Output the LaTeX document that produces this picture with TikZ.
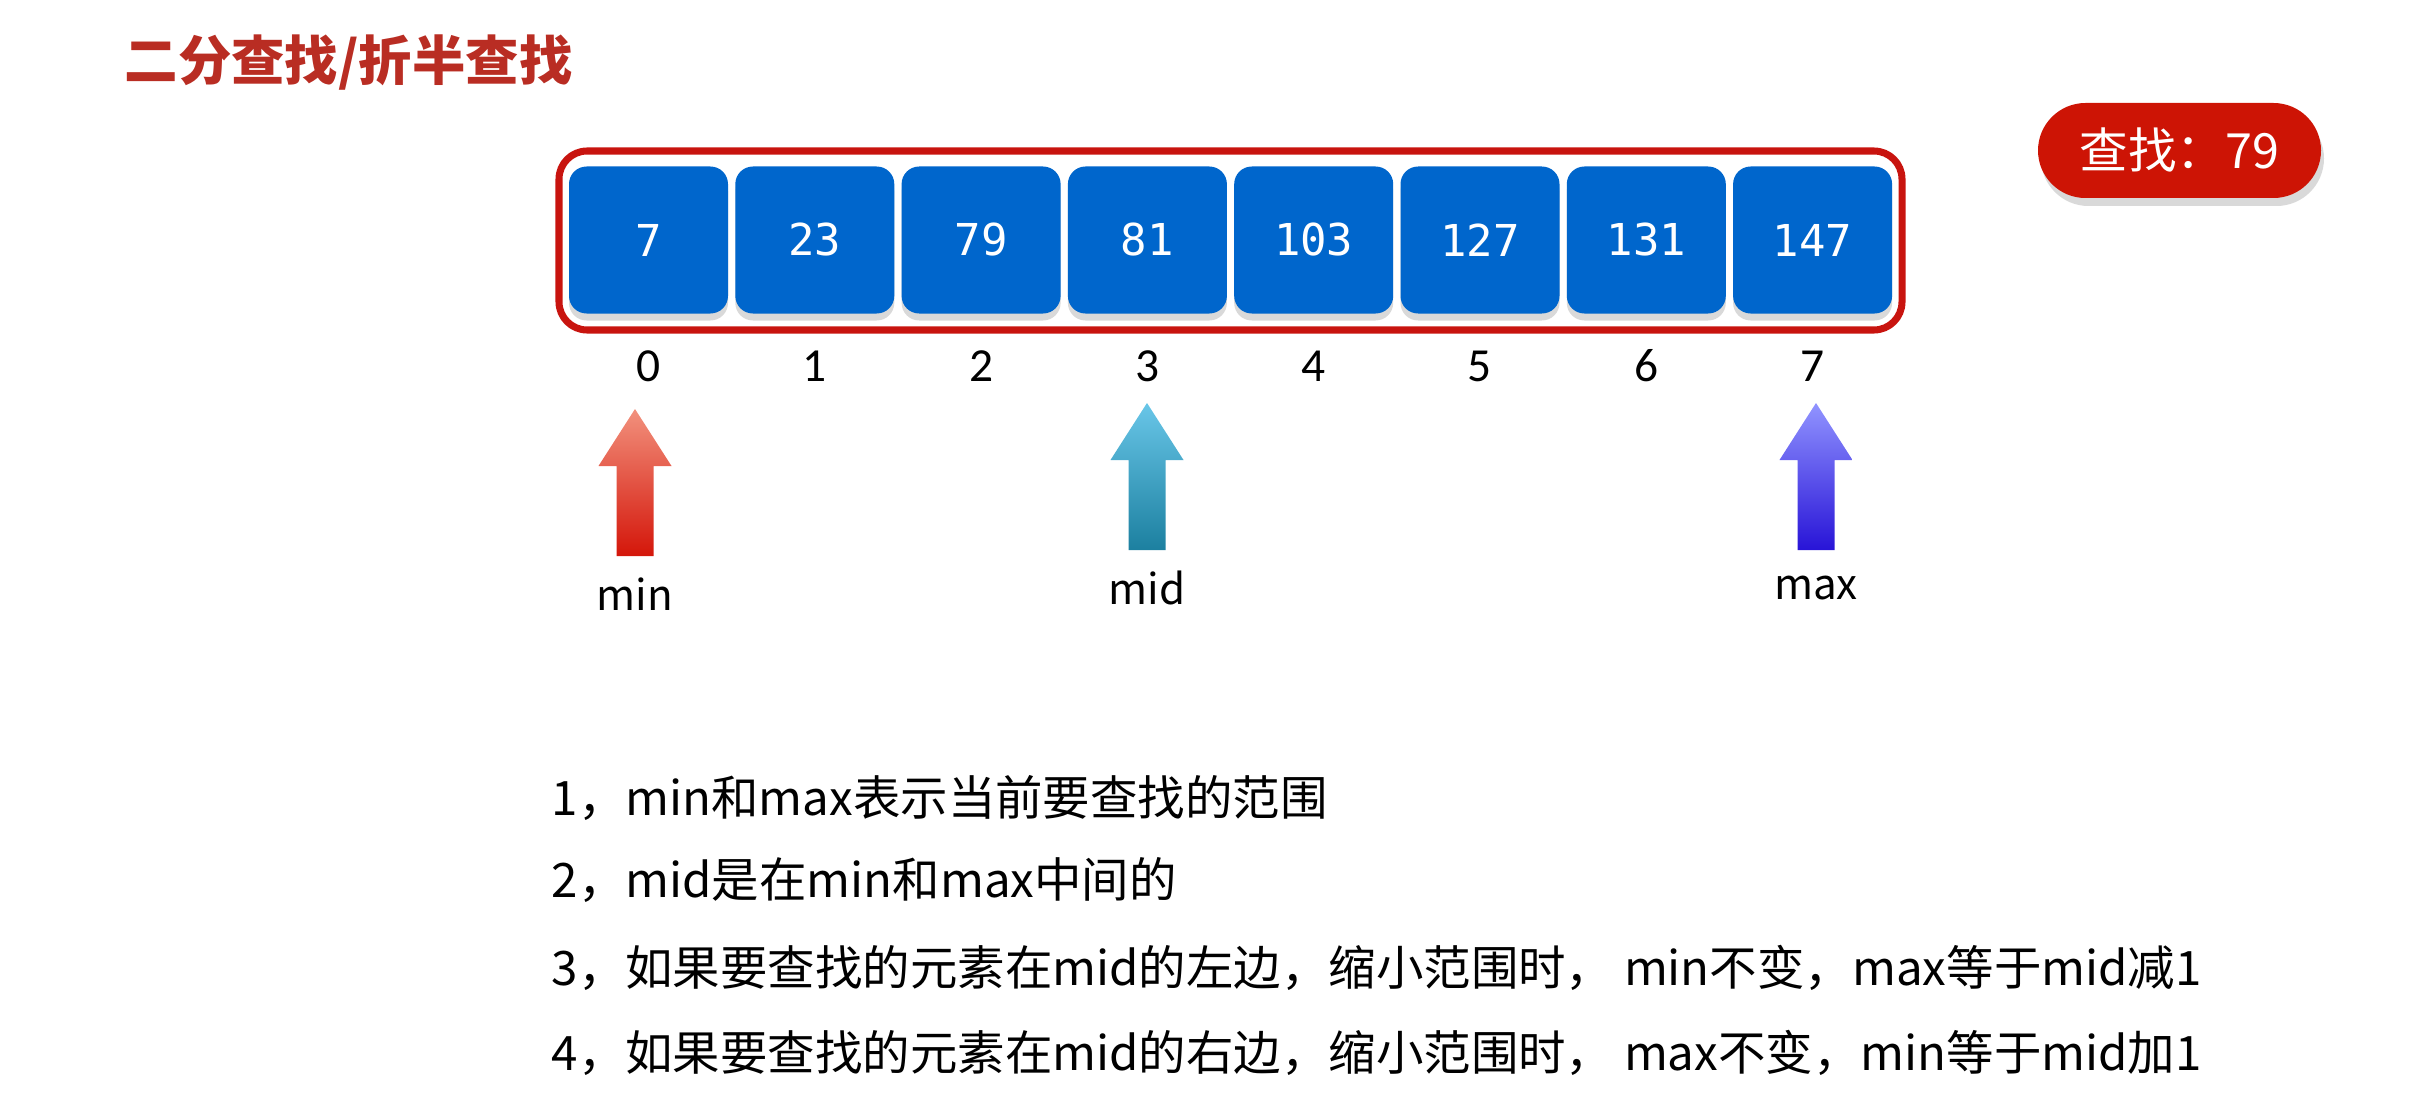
\documentclass[tikz,border=0pt]{standalone}
\usepackage{fontspec}
\setmainfont{Noto Sans CJK SC}
\newfontfamily\cellfont{DejaVu Sans Mono}
\newfontfamily\idxfont{Carlito}
\usetikzlibrary{positioning,shadows}
\definecolor{titlered}{RGB}{185,45,35}
\definecolor{framered}{RGB}{200,20,15}
\definecolor{cellblue}{RGB}{0,102,204}
\definecolor{badgered}{RGB}{205,20,5}
\definecolor{minTop}{RGB}{242,145,125}
\definecolor{minBot}{RGB}{212,22,10}
\definecolor{midTop}{RGB}{105,198,232}
\definecolor{midBot}{RGB}{28,128,160}
\definecolor{maxTop}{RGB}{145,148,255}
\definecolor{maxBot}{RGB}{40,20,215}

\begin{document}
\begin{tikzpicture}[
  cellbox/.style={fill=cellblue,rounded corners=5pt,minimum width=1.59cm,minimum height=1.47cm,
    text=white,font=\cellfont\fontsize{12.5}{14}\selectfont,
    drop shadow={shadow xshift=0pt,shadow yshift=-0.7mm,fill=black!15,opacity=1}},
  idxlab/.style={font=\idxfont\fontsize{13.5}{15}\selectfont},
  ptrlab/.style={font=\fontsize{12}{14}\selectfont},
  rulelab/.style={anchor=west,inner sep=0pt,font=\fontsize{13.5}{16}\selectfont}
]
\useasboundingbox (0,0) rectangle (24.21,11.19);

\node[anchor=west,inner sep=0pt,text=titlered,font=\bfseries\fontsize{15.2}{18}\selectfont] (title) at (1.24,10.56) {二分查找/折半查找};

% the array with its frame
\draw[framered,line width=2pt,rounded corners=8pt] (5.59,7.89) rectangle (19.02,9.68);
\foreach \i/\v in {0/7,1/23,2/79,3/81,4/103,5/127,6/131,7/147}{
  \node[cellbox] (c\i) at ({6.485+1.663*\i},8.79) {\v};
  \node[idxlab] (i\i) at ({6.485+1.663*\i},7.53) {\i};
}

% value that is searched
\node[fill=badgered,rounded corners=0.475cm,minimum width=2.83cm,minimum height=0.95cm,
  text=white,font=\fontsize{13.8}{16}\selectfont,
  drop shadow={shadow xshift=0.3mm,shadow yshift=-0.8mm,fill=black!15,opacity=1}] (target) at (21.795,9.685) {查找：79};

% pointers min, mid, max
\foreach \n/\x/\ytip/\ytail/\ylab/\ctop/\cbot in {min/6.35/7.10/5.63/5.25/minTop/minBot,
    mid/11.47/7.16/5.69/5.31/midTop/midBot, max/18.16/7.16/5.69/5.31/maxTop/maxBot}{
  \shade[top color=\ctop,bottom color=\cbot]
    ({\x-0.185},\ytail) -- ({\x-0.185},{\ytip-0.57}) -- ({\x-0.365},{\ytip-0.57}) -- (\x,\ytip)
    -- ({\x+0.365},{\ytip-0.57}) -- ({\x+0.185},{\ytip-0.57}) -- ({\x+0.185},\ytail) -- cycle;
  \coordinate (tip-\n) at (\x,\ytip);
  \node[ptrlab] (lbl-\n) at (\x,\ylab) {\n};
}

% the rules
\node[rulelab] (r1) at (5.51,3.21) {1，min和max表示当前要查找的范围};
\node[rulelab] (r2) at (5.51,2.39) {2，mid是在min和max中间的};
\node[rulelab] (r3) at (5.51,1.51) {3，如果要查找的元素在mid的左边，缩小范围时， min不变，max等于mid减1};
\node[rulelab] (r4) at (5.51,0.66) {4，如果要查找的元素在mid的右边，缩小范围时， max不变，min等于mid加1};
\end{tikzpicture}
\end{document}
